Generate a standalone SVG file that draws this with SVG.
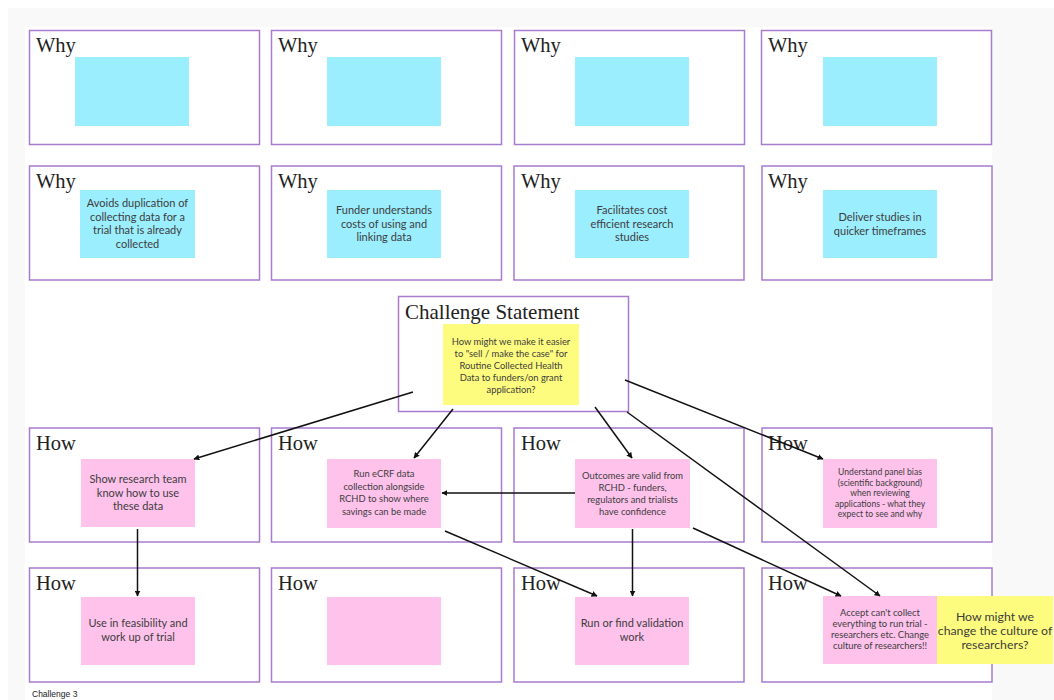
<svg xmlns="http://www.w3.org/2000/svg" width="1054" height="700" viewBox="0 0 1054 700">
  <style>
    .frame { fill: #ffffff; stroke: #a77bce; stroke-width: 1.5; }
    .why { fill: #9beefe; }
    .how { fill: #fec2eb; }
    .hmw { fill: #fefc7e; }
    .head { font-family: "Liberation Serif", "DejaVu Serif", serif; font-size: 20.5px; fill: #222222; }
    .note { font-family: Lato, "Liberation Sans", sans-serif; font-size: 11px; fill: #3d3d3d; text-anchor: middle; }
    .small { font-size: 9.4px; }
    .tiny { font-size: 8.6px; }
    .big { font-size: 12.3px; }
    .conn { stroke: #111111; stroke-width: 1.5; fill: none; marker-end: url(#arrow); }
    .caption { font-family: "Liberation Sans", Arial, sans-serif; font-size: 8.5px; fill: #222222; }
  </style>
  <defs>
    <marker id="arrow" viewBox="0 0 10 10" refX="9" refY="5" markerWidth="6" markerHeight="6" markerUnits="userSpaceOnUse" orient="auto">
      <path d="M0,0 L10,5 L0,10 z" fill="#111111"/>
    </marker>
  </defs>

  <!-- canvas -->
  <rect x="0" y="0" width="1054" height="700" fill="#ffffff"/>
  <rect x="8" y="8" width="1046" height="692" fill="#f9f9f9"/>
  <rect x="25" y="27" width="967" height="673" fill="#ffffff"/>

  <!-- Why row 1 -->
  <g id="why-1-1"><rect class="frame" x="29.5" y="30.5" width="230" height="114"/><text class="head" x="36" y="52">Why</text><rect class="why" x="75" y="57" width="114" height="69"/></g>
  <g id="why-1-2"><rect class="frame" x="271.5" y="30.5" width="230" height="114"/><text class="head" x="278" y="52">Why</text><rect class="why" x="327" y="57" width="114" height="69"/></g>
  <g id="why-1-3"><rect class="frame" x="514.5" y="30.5" width="230" height="114"/><text class="head" x="521" y="52">Why</text><rect class="why" x="575" y="57" width="114" height="69"/></g>
  <g id="why-1-4"><rect class="frame" x="761.5" y="30.5" width="230" height="114"/><text class="head" x="768" y="52">Why</text><rect class="why" x="823" y="57" width="114" height="69"/></g>

  <!-- Why row 2 -->
  <g id="why-2-1"><rect class="frame" x="29.5" y="166" width="230" height="114"/><text class="head" x="36" y="188">Why</text><rect class="why" x="80" y="190" width="115" height="68"/>
    <text class="note" x="137.5" y="207">Avoids duplication of</text><text class="note" x="137.5" y="220.5">collecting data for a</text><text class="note" x="137.5" y="234">trial that is already</text><text class="note" x="137.5" y="247.5">collected</text></g>
  <g id="why-2-2"><rect class="frame" x="271.5" y="166" width="230" height="114"/><text class="head" x="278" y="188">Why</text><rect class="why" x="327" y="190" width="114" height="68"/>
    <text class="note" x="384" y="214">Funder understands</text><text class="note" x="384" y="227.5">costs of using and</text><text class="note" x="384" y="241">linking data</text></g>
  <g id="why-2-3"><rect class="frame" x="514" y="166" width="230" height="114"/><text class="head" x="521" y="188">Why</text><rect class="why" x="575" y="190" width="114" height="68"/>
    <text class="note" x="632" y="214">Facilitates cost</text><text class="note" x="632" y="227.5">efficient research</text><text class="note" x="632" y="241">studies</text></g>
  <g id="why-2-4"><rect class="frame" x="762" y="166" width="230" height="114"/><text class="head" x="768" y="188">Why</text><rect class="why" x="823" y="190" width="114" height="68"/>
    <text class="note" x="880" y="221">Deliver studies in</text><text class="note" x="880" y="234.5">quicker timeframes</text></g>

  <!-- Challenge statement -->
  <g id="challenge"><rect class="frame" x="398.5" y="296.5" width="230" height="115"/><text class="head" x="405" y="319" style="font-size:21px">Challenge Statement</text><rect class="hmw" x="443" y="324" width="136" height="81"/>
    <text class="note small" x="511" y="345">How might we make it easier</text><text class="note small" x="511" y="357">to "sell / make the case" for</text><text class="note small" x="511" y="369">Routine Collected Health</text><text class="note small" x="511" y="381">Data to funders/on grant</text><text class="note small" x="511" y="393">application?</text></g>

  <!-- How row 1 -->
  <g id="how-1-1"><rect class="frame" x="29.5" y="428" width="230" height="114"/><text class="head" x="36" y="450">How</text><rect class="how" x="81" y="459" width="114" height="68"/>
    <text class="note" x="138" y="483">Show research team</text><text class="note" x="138" y="496.5">know how to use</text><text class="note" x="138" y="510">these data</text></g>
  <g id="how-1-2"><rect class="frame" x="271.5" y="428" width="230" height="114"/><text class="head" x="278" y="450">How</text><rect class="how" x="327" y="459" width="114" height="69"/>
    <text class="note small" x="384" y="477">Run eCRF data</text><text class="note small" x="384" y="489.5">collection alongside</text><text class="note small" x="384" y="502">RCHD to show where</text><text class="note small" x="384" y="514.5">savings can be made</text></g>
  <g id="how-1-3"><rect class="frame" x="514" y="428" width="230" height="114"/><text class="head" x="521" y="450">How</text><rect class="how" x="575" y="459" width="115" height="69"/>
    <text class="note small" x="632.5" y="479">Outcomes are valid from</text><text class="note small" x="632.5" y="491">RCHD - funders,</text><text class="note small" x="632.5" y="503">regulators and trialists</text><text class="note small" x="632.5" y="515">have confidence</text></g>
  <g id="how-1-4"><rect class="frame" x="762" y="428" width="230" height="114"/><text class="head" x="768" y="450">How</text><rect class="how" x="823" y="459" width="114" height="69"/>
    <text class="note tiny" x="880" y="475">Understand panel bias</text><text class="note tiny" x="880" y="485.5">(scientific background)</text><text class="note tiny" x="880" y="496">when reviewing</text><text class="note tiny" x="880" y="506.5">applications - what they</text><text class="note tiny" x="880" y="517">expect to see and why</text></g>

  <!-- How row 2 -->
  <g id="how-2-1"><rect class="frame" x="29.5" y="568" width="230" height="114"/><text class="head" x="36" y="590">How</text><rect class="how" x="81" y="597" width="114" height="68"/>
    <text class="note" x="138" y="627">Use in feasibility and</text><text class="note" x="138" y="640.5">work up of trial</text></g>
  <g id="how-2-2"><rect class="frame" x="271.5" y="568" width="230" height="114"/><text class="head" x="278" y="590">How</text><rect class="how" x="327" y="597" width="114" height="68"/></g>
  <g id="how-2-3"><rect class="frame" x="514" y="568" width="230" height="114"/><text class="head" x="521" y="590">How</text><rect class="how" x="575" y="597" width="114" height="68"/>
    <text class="note" x="632" y="627">Run or find validation</text><text class="note" x="632" y="640.5">work</text></g>
  <g id="how-2-4"><rect class="frame" x="762" y="568" width="230" height="114"/><text class="head" x="768" y="590">How</text><rect class="how" x="823" y="596" width="114" height="68"/>
    <text class="note small" x="880" y="616">Accept can't collect</text><text class="note small" x="880" y="627">everything to run trial -</text><text class="note small" x="880" y="638">researchers etc. Change</text><text class="note small" x="880" y="649">culture of researchers!!</text></g>
  <g id="hmw-culture"><rect class="hmw" x="937" y="596" width="116" height="68"/>
    <text class="note big" x="995" y="621">How might we</text><text class="note big" x="995" y="635">change the culture of</text><text class="note big" x="995" y="649">researchers?</text></g>

  <!-- connectors -->
  <g id="connectors">
    <line class="conn" x1="413" y1="392" x2="194" y2="459"/>
    <line class="conn" x1="453" y1="409" x2="414" y2="458"/>
    <line class="conn" x1="595" y1="407" x2="632" y2="458"/>
    <line class="conn" x1="625" y1="380" x2="823" y2="459"/>
    <line class="conn" x1="627" y1="412" x2="880" y2="596"/>
    <line class="conn" x1="575" y1="493" x2="442" y2="493"/>
    <line class="conn" x1="137.5" y1="529" x2="137.5" y2="596"/>
    <line class="conn" x1="632.5" y1="529" x2="632.5" y2="596"/>
    <line class="conn" x1="445" y1="531" x2="597" y2="596"/>
    <line class="conn" x1="693" y1="528" x2="841" y2="596"/>
  </g>

  <text class="caption" x="32" y="697">Challenge 3</text>
</svg>
